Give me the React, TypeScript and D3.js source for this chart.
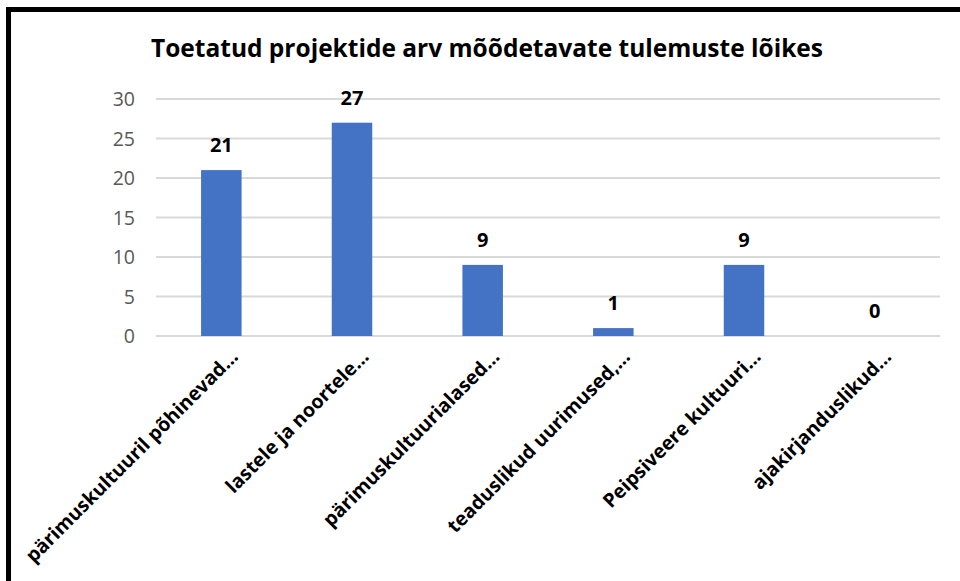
import React, { useEffect, useRef } from "react";
import * as d3 from "d3";

const categories = [
  "pärimuskultuuril põhinevad…",
  "lastele ja noortele…",
  "pärimuskultuurialased…",
  "teaduslikud uurimused,…",
  "Peipsiveere kultuuri…",
  "ajakirjanduslikud…",
];
const values = [21, 27, 9, 1, 9, 0];
const yTicks = [0, 5, 10, 15, 20, 25, 30];
const title = "Toetatud projektide arv mõõdetavate tulemuste lõikes";

const W = 960;
const H = 581;
const FONT = "'Open Sans', 'Noto Sans', sans-serif";

const App = () => {
  const ref = useRef<SVGSVGElement | null>(null);

  useEffect(() => {
    const svg = d3.select(ref.current);
    svg.selectAll("*").remove();

    svg.append("rect").attr("width", W).attr("height", H).attr("fill", "#fff");

    // black frame (cut off at right and bottom like the screenshot)
    svg
      .append("rect")
      .attr("x", 8.5)
      .attr("y", 9.5)
      .attr("width", W + 20)
      .attr("height", H + 20)
      .attr("fill", "none")
      .attr("stroke", "#000")
      .attr("stroke-width", 5);

    const x = d3
      .scaleBand<string>()
      .domain(categories)
      .range([156, 940])
      .paddingInner(0.69)
      .paddingOuter(0.345);

    const y = d3.scaleLinear().domain([0, 30]).range([336, 99]);

    // title
    svg
      .append("text")
      .attr("x", 487)
      .attr("y", 57)
      .attr("text-anchor", "middle")
      .attr("font-family", FONT)
      .attr("font-weight", "bold")
      .attr("font-size", 24.5)
      .attr("fill", "#000")
      .text(title);

    // gridlines
    svg
      .append("g")
      .selectAll("line")
      .data(yTicks)
      .join("line")
      .attr("x1", 156)
      .attr("x2", 940)
      .attr("y1", (d) => y(d))
      .attr("y2", (d) => y(d))
      .attr("stroke", "#d9d9d9")
      .attr("stroke-width", 2);

    // y tick labels
    svg
      .append("g")
      .selectAll("text")
      .data(yTicks)
      .join("text")
      .attr("x", 135)
      .attr("y", (d) => y(d))
      .attr("dy", "0.36em")
      .attr("text-anchor", "end")
      .attr("font-family", FONT)
      .attr("font-size", 19.5)
      .attr("fill", "#595959")
      .text((d) => d);

    // bars
    svg
      .append("g")
      .selectAll("rect")
      .data(values)
      .join("rect")
      .attr("x", (_, i) => x(categories[i])!)
      .attr("y", (d) => y(d))
      .attr("width", x.bandwidth())
      .attr("height", (d) => y(0) - y(d))
      .attr("fill", "#4472c4");

    // value labels
    svg
      .append("g")
      .selectAll("text")
      .data(values)
      .join("text")
      .attr("x", (_, i) => x(categories[i])! + x.bandwidth() / 2)
      .attr("y", (d) => y(d) - 18)
      .attr("text-anchor", "middle")
      .attr("font-family", FONT)
      .attr("font-weight", "bold")
      .attr("font-size", 20)
      .attr("fill", "#000")
      .text((d) => d);

    // category labels, rotated
    svg
      .append("g")
      .selectAll("text")
      .data(categories)
      .join("text")
      .attr("transform", (d) => {
        const cx = x(d)! + x.bandwidth() / 2 + 18;
        return `translate(${cx},${358}) rotate(-45)`;
      })
      .attr("text-anchor", "end")
      .attr("font-family", FONT)
      .attr("font-weight", "bold")
      .attr("font-size", 19.5)
      .attr("fill", "#000")
      .text((d) => d);
  }, []);

  return (
    <svg
      ref={ref}
      width={W}
      height={H}
      style={{ position: "absolute", left: 0, top: 0, display: "block" }}
    />
  );
};

export default App;
